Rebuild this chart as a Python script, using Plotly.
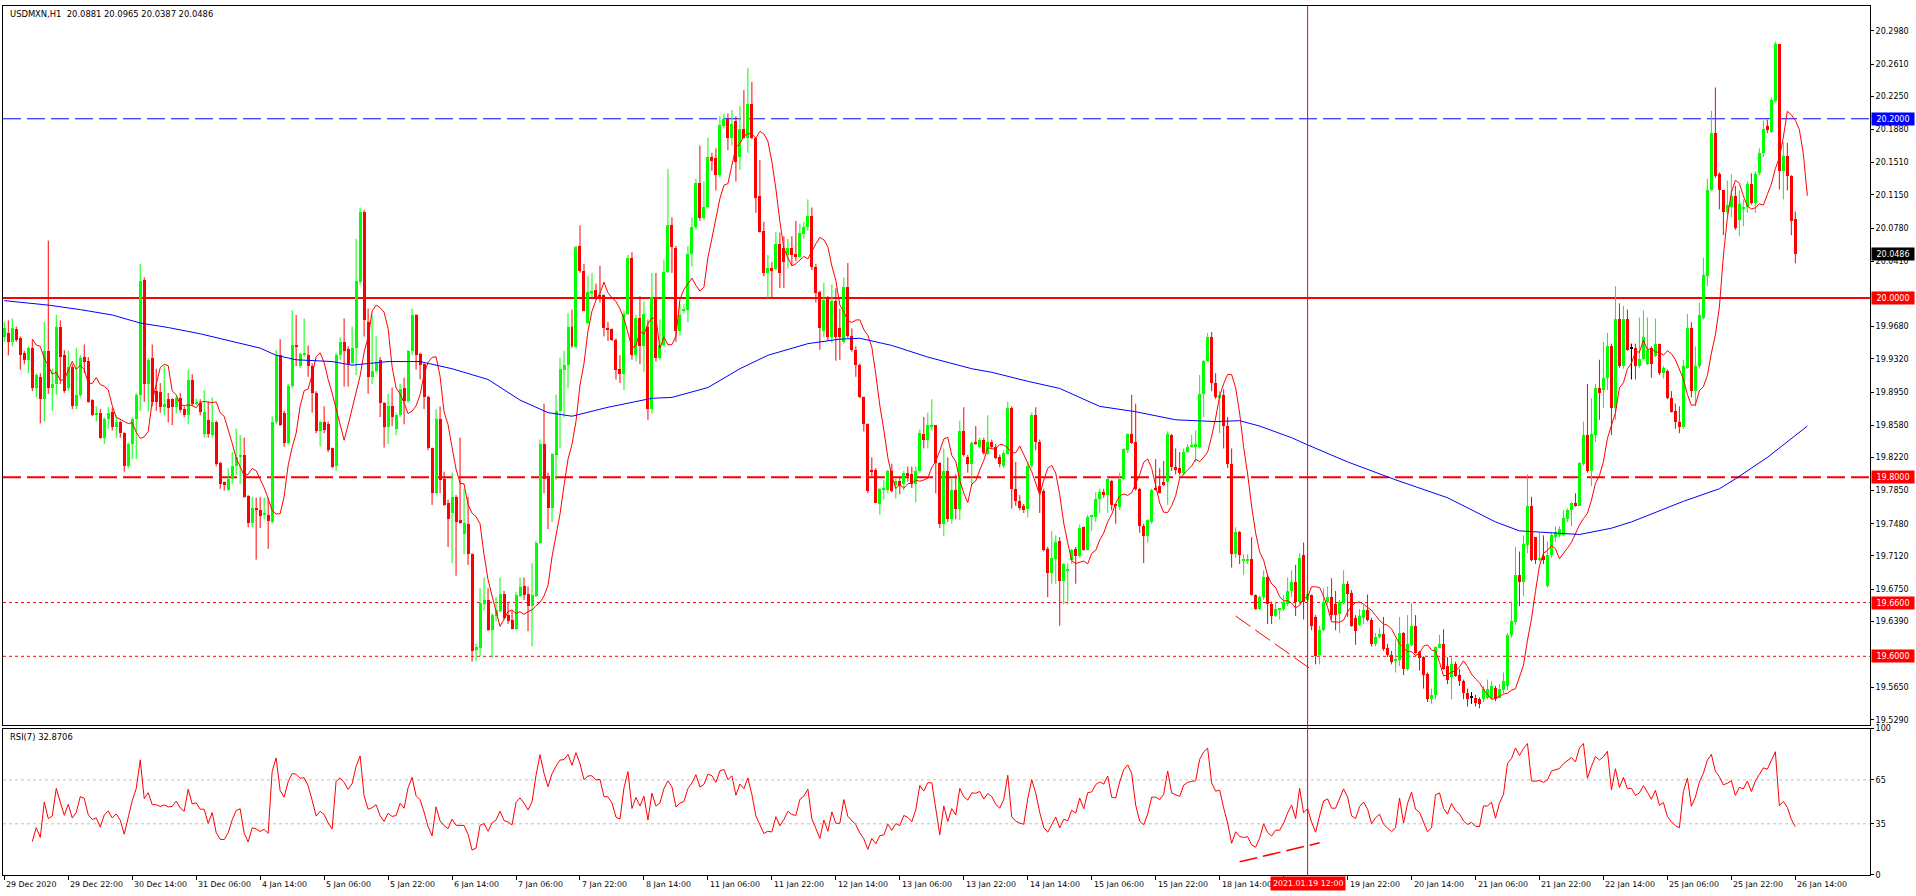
import pandas as pd
import plotly.graph_objects as go

# USDMXN H1 candles (bar 0 = 29 Dec 2020 06:00)
opens = [
    19.956, 19.961, 19.951, 19.965, 19.955, 19.939, 19.931, 19.944, 19.899, 19.912,
    19.887, 19.941, 19.899, 19.904, 19.968, 19.936, 19.899, 19.923, 19.879, 19.892,
    19.934, 19.930, 19.886, 19.869, 19.872, 19.844, 19.865, 19.873, 19.856, 19.862,
    19.849, 19.812, 19.837, 19.865, 19.892, 20.020, 19.904, 19.933, 19.896, 19.895,
    19.878, 19.887, 19.887, 19.878, 19.888, 19.876, 19.869, 19.908, 19.882, 19.883,
    19.848, 19.864, 19.847, 19.861, 19.816, 19.795, 19.786, 19.798, 19.812, 19.823,
    19.825, 19.779, 19.749, 19.766, 19.763, 19.758, 19.758, 19.750, 19.862, 19.936,
    19.872, 19.838, 19.902, 19.948, 19.924, 19.936, 19.936, 19.924, 19.894, 19.851,
    19.862, 19.859, 19.832, 19.812, 19.936, 19.951, 19.943, 19.927, 19.944, 20.018,
    20.096, 19.973, 19.912, 19.918, 19.931, 19.883, 19.856, 19.879, 19.854, 19.869,
    19.899, 19.885, 19.941, 19.981, 19.938, 19.926, 19.889, 19.832, 19.782, 19.865,
    19.798, 19.771, 19.760, 19.778, 19.752, 19.737, 19.748, 19.714, 19.607, 19.609,
    19.658, 19.663, 19.629, 19.645, 19.651, 19.669, 19.646, 19.640, 19.631, 19.667,
    19.678, 19.669, 19.656, 19.667, 19.726, 19.837, 19.801, 19.765, 19.825, 19.874,
    19.920, 19.925, 19.968, 19.945, 20.058, 20.030, 19.972, 20.006, 20.009, 20.003,
    20.003, 19.967, 19.965, 19.953, 19.921, 19.915, 19.982, 20.045, 19.936, 19.978,
    19.946, 19.968, 19.876, 20.000, 19.933, 19.948, 20.029, 20.081, 20.056, 19.963,
    19.986, 19.987, 20.049, 20.079, 20.128, 20.089, 20.102, 20.157, 20.156, 20.137,
    20.192, 20.200, 20.179, 20.198, 20.157, 20.189, 20.179, 20.216, 20.179, 20.114,
    20.075, 20.028, 20.033, 20.032, 20.060, 20.056, 20.048, 20.056, 20.049, 20.046,
    20.071, 20.079, 20.092, 20.035, 20.007, 19.963, 20.001, 19.956, 19.997, 19.966,
    19.951, 20.012, 19.958, 19.942, 19.925, 19.889, 19.859, 19.807, 19.808, 19.770,
    19.786, 19.786, 19.807, 19.791, 19.796, 19.792, 19.805, 19.803, 19.792, 19.807,
    19.848, 19.841, 19.857, 19.858, 19.816, 19.748, 19.807, 19.753, 19.786, 19.764,
    19.851, 19.823, 19.815, 19.839, 19.834, 19.842, 19.826, 19.839, 19.834, 19.823,
    19.812, 19.826, 19.877, 19.787, 19.773, 19.768, 19.764, 19.812, 19.869, 19.839,
    19.785, 19.720, 19.693, 19.709, 19.729, 19.684, 19.696, 19.708, 19.720, 19.712,
    19.744, 19.719, 19.755, 19.756, 19.776, 19.783, 19.780, 19.796, 19.769, 19.767,
    19.798, 19.830, 19.848, 19.839, 19.787, 19.745, 19.734, 19.750, 19.788, 19.790,
    19.795, 19.795, 19.847, 19.811, 19.810, 19.805, 19.828, 19.834, 19.834, 19.834,
    19.893, 19.930, 19.956, 19.905, 19.888, 19.892, 19.857, 19.815, 19.714, 19.739,
    19.707, 19.707, 19.709, 19.668, 19.653, 19.666, 19.689, 19.658, 19.645, 19.652,
    19.653, 19.658, 19.673, 19.683, 19.661, 19.713, 19.663, 19.668, 19.644, 19.601,
    19.629, 19.661, 19.666, 19.658, 19.647, 19.659, 19.681, 19.671, 19.643, 19.635,
    19.643, 19.652, 19.641, 19.614, 19.621, 19.625, 19.609, 19.601, 19.595, 19.596,
    19.626, 19.586, 19.613, 19.634, 19.605, 19.599, 19.580, 19.552, 19.557, 19.609,
    19.614, 19.589, 19.577, 19.591, 19.579, 19.572, 19.559, 19.554, 19.554, 19.552,
    19.552, 19.554, 19.554, 19.565, 19.554, 19.562, 19.567, 19.624, 19.638, 19.691,
    19.683, 19.724, 19.768, 19.733, 19.708, 19.712, 19.679, 19.713, 19.733, 19.735,
    19.735, 19.753, 19.763, 19.771, 19.768, 19.815, 19.847, 19.807, 19.847, 19.899,
    19.897, 19.911, 19.946, 19.877, 19.976, 19.924, 19.977, 19.944, 19.944, 19.924,
    19.932, 19.926, 19.944, 19.935, 19.949, 19.916, 19.919, 19.888, 19.874, 19.862,
    19.856, 19.922, 19.967, 19.896, 19.924, 19.978, 20.025, 20.121, 20.184, 20.138,
    20.120, 20.096, 20.102, 20.114, 20.087, 20.100, 20.101, 20.127, 20.106, 20.140,
    20.162, 20.192, 20.185, 20.220, 20.283, 20.142, 20.158, 20.136, 20.0881,
]
highs = [
    19.973, 19.975, 19.977, 19.968, 19.957, 19.941, 19.946, 19.953, 19.916, 19.916,
    19.973, 20.064, 19.921, 19.981, 19.975, 19.942, 19.941, 19.926, 19.944, 19.936,
    19.948, 19.934, 19.887, 19.879, 19.876, 19.867, 19.878, 19.877, 19.869, 19.863,
    19.850, 19.839, 19.867, 19.894, 20.038, 20.023, 19.933, 19.948, 19.921, 19.905,
    19.924, 19.894, 19.888, 19.890, 19.894, 19.879, 19.920, 19.915, 19.888, 19.887,
    19.897, 19.884, 19.889, 19.863, 19.817, 19.795, 19.810, 19.828, 19.854, 19.847,
    19.844, 19.780, 19.778, 19.777, 19.778, 19.777, 19.777, 19.868, 19.942, 19.954,
    19.874, 19.904, 19.986, 19.981, 19.939, 19.977, 19.947, 19.927, 19.896, 19.863,
    19.879, 19.862, 19.833, 19.939, 19.956, 19.977, 19.946, 19.968, 20.066, 20.101,
    20.098, 19.988, 19.981, 19.957, 19.934, 19.884, 19.893, 19.900, 19.872, 19.904,
    19.911, 19.942, 19.988, 19.982, 19.939, 19.927, 19.891, 19.833, 19.876, 19.879,
    19.806, 19.775, 19.805, 19.780, 19.844, 19.787, 19.778, 19.715, 19.614, 19.676,
    19.688, 19.676, 19.648, 19.666, 19.688, 19.673, 19.661, 19.651, 19.672, 19.688,
    19.688, 19.678, 19.704, 19.729, 19.842, 19.882, 19.805, 19.827, 19.892, 19.933,
    19.941, 19.983, 19.987, 20.058, 20.081, 20.038, 20.025, 20.028, 20.016, 20.036,
    20.004, 19.973, 19.966, 19.955, 19.936, 19.986, 20.048, 20.051, 19.981, 20.002,
    19.996, 19.976, 20.028, 20.028, 19.976, 20.043, 20.144, 20.090, 20.058, 19.993,
    19.993, 20.058, 20.090, 20.133, 20.170, 20.130, 20.179, 20.162, 20.167, 20.203,
    20.206, 20.206, 20.210, 20.203, 20.214, 20.232, 20.257, 20.241, 20.179, 20.154,
    20.085, 20.048, 20.040, 20.074, 20.073, 20.069, 20.066, 20.069, 20.086, 20.083,
    20.085, 20.110, 20.101, 20.038, 20.008, 20.017, 20.002, 20.015, 20.011, 19.988,
    20.023, 20.039, 19.966, 19.946, 19.927, 19.890, 19.860, 19.822, 19.810, 19.788,
    19.797, 19.808, 19.815, 19.798, 19.800, 19.807, 19.812, 19.812, 19.812, 19.853,
    19.867, 19.872, 19.887, 19.858, 19.817, 19.832, 19.822, 19.798, 19.803, 19.863,
    19.878, 19.825, 19.840, 19.857, 19.844, 19.844, 19.869, 19.842, 19.837, 19.825,
    19.830, 19.884, 19.879, 19.817, 19.780, 19.770, 19.817, 19.872, 19.878, 19.842,
    19.787, 19.722, 19.740, 19.735, 19.733, 19.704, 19.704, 19.720, 19.722, 19.747,
    19.745, 19.758, 19.758, 19.783, 19.787, 19.787, 19.800, 19.797, 19.770, 19.805,
    19.832, 19.849, 19.892, 19.882, 19.788, 19.748, 19.753, 19.787, 19.820, 19.810,
    19.818, 19.851, 19.848, 19.832, 19.828, 19.832, 19.837, 19.847, 19.852, 19.914,
    19.931, 19.961, 19.962, 19.916, 19.896, 19.898, 19.867, 19.832, 19.744, 19.740,
    19.714, 19.714, 19.733, 19.669, 19.668, 19.696, 19.691, 19.661, 19.661, 19.654,
    19.668, 19.688, 19.696, 19.702, 19.715, 19.727, 19.676, 19.669, 19.646, 19.634,
    19.676, 19.678, 19.687, 19.673, 19.663, 19.696, 19.684, 19.674, 19.646, 19.653,
    19.657, 19.669, 19.643, 19.626, 19.631, 19.644, 19.614, 19.606, 19.619, 19.644,
    19.627, 19.646, 19.659, 19.646, 19.606, 19.600, 19.582, 19.564, 19.611, 19.624,
    19.630, 19.599, 19.599, 19.594, 19.586, 19.574, 19.564, 19.560, 19.557, 19.554,
    19.567, 19.574, 19.572, 19.567, 19.569, 19.582, 19.626, 19.661, 19.722, 19.717,
    19.735, 19.803, 19.778, 19.733, 19.738, 19.735, 19.728, 19.738, 19.745, 19.745,
    19.763, 19.765, 19.772, 19.782, 19.817, 19.862, 19.904, 19.888, 19.904, 19.931,
    19.951, 19.961, 19.949, 20.013, 19.994, 19.991, 19.987, 19.949, 19.949, 19.978,
    19.986, 19.978, 19.946, 19.977, 19.949, 19.924, 19.920, 19.896, 19.882, 19.879,
    19.931, 19.982, 19.973, 19.946, 19.995, 20.045, 20.133, 20.209, 20.235, 20.140,
    20.120, 20.131, 20.138, 20.125, 20.120, 20.110, 20.130, 20.139, 20.141, 20.167,
    20.198, 20.199, 20.224, 20.286, 20.283, 20.174, 20.173, 20.137, 20.0965,
]
lows = [
    19.951, 19.936, 19.946, 19.951, 19.920, 19.926, 19.916, 19.896, 19.889, 19.860,
    19.862, 19.893, 19.874, 19.892, 19.904, 19.894, 19.896, 19.876, 19.876, 19.889,
    19.916, 19.883, 19.868, 19.862, 19.843, 19.837, 19.854, 19.852, 19.844, 19.844,
    19.806, 19.810, 19.820, 19.820, 19.874, 19.884, 19.873, 19.879, 19.874, 19.872,
    19.869, 19.861, 19.858, 19.871, 19.872, 19.867, 19.859, 19.879, 19.880, 19.869,
    19.844, 19.844, 19.844, 19.812, 19.787, 19.785, 19.785, 19.792, 19.802, 19.792,
    19.777, 19.744, 19.744, 19.708, 19.743, 19.753, 19.720, 19.748, 19.859, 19.857,
    19.834, 19.836, 19.899, 19.924, 19.922, 19.934, 19.912, 19.872, 19.849, 19.834,
    19.849, 19.828, 19.810, 19.807, 19.931, 19.901, 19.901, 19.926, 19.914, 20.015,
    19.957, 19.893, 19.904, 19.916, 19.867, 19.833, 19.837, 19.857, 19.847, 19.867,
    19.859, 19.883, 19.936, 19.920, 19.909, 19.876, 19.830, 19.769, 19.781, 19.782,
    19.768, 19.722, 19.704, 19.690, 19.748, 19.714, 19.702, 19.594, 19.595, 19.600,
    19.651, 19.628, 19.598, 19.639, 19.649, 19.641, 19.636, 19.630, 19.629, 19.666,
    19.663, 19.628, 19.611, 19.666, 19.725, 19.782, 19.742, 19.750, 19.797, 19.832,
    19.867, 19.899, 19.944, 19.944, 20.028, 19.985, 19.971, 20.001, 19.998, 19.995,
    19.957, 19.952, 19.952, 19.909, 19.905, 19.897, 19.981, 19.931, 19.929, 19.926,
    19.917, 19.864, 19.871, 19.929, 19.931, 19.946, 20.028, 20.028, 19.951, 19.958,
    19.983, 19.973, 20.035, 20.076, 20.086, 20.087, 20.100, 20.142, 20.120, 20.134,
    20.189, 20.165, 20.170, 20.130, 20.143, 20.178, 20.162, 20.177, 20.095, 20.073,
    20.024, 20.000, 20.000, 20.031, 20.011, 20.011, 20.033, 20.036, 20.041, 20.045,
    20.066, 20.075, 20.031, 19.995, 19.942, 19.956, 19.952, 19.950, 19.930, 19.931,
    19.949, 19.955, 19.940, 19.912, 19.888, 19.851, 19.782, 19.801, 19.771, 19.758,
    19.775, 19.782, 19.783, 19.776, 19.781, 19.785, 19.795, 19.788, 19.772, 19.805,
    19.832, 19.832, 19.852, 19.782, 19.743, 19.734, 19.750, 19.748, 19.753, 19.752,
    19.823, 19.805, 19.792, 19.836, 19.832, 19.825, 19.825, 19.832, 19.820, 19.811,
    19.810, 19.825, 19.765, 19.768, 19.763, 19.760, 19.755, 19.810, 19.830, 19.760,
    19.717, 19.666, 19.681, 19.681, 19.634, 19.658, 19.658, 19.703, 19.681, 19.710,
    19.718, 19.718, 19.740, 19.750, 19.760, 19.777, 19.760, 19.763, 19.748, 19.763,
    19.797, 19.827, 19.837, 19.785, 19.738, 19.704, 19.727, 19.748, 19.785, 19.782,
    19.790, 19.769, 19.807, 19.803, 19.802, 19.802, 19.827, 19.833, 19.817, 19.832,
    19.867, 19.929, 19.896, 19.887, 19.849, 19.832, 19.810, 19.699, 19.710, 19.703,
    19.691, 19.703, 19.668, 19.652, 19.652, 19.663, 19.636, 19.636, 19.644, 19.641,
    19.651, 19.656, 19.666, 19.645, 19.658, 19.641, 19.661, 19.629, 19.591, 19.591,
    19.628, 19.658, 19.641, 19.629, 19.626, 19.658, 19.644, 19.633, 19.613, 19.634,
    19.636, 19.639, 19.611, 19.611, 19.620, 19.606, 19.599, 19.591, 19.582, 19.589,
    19.579, 19.584, 19.611, 19.603, 19.584, 19.564, 19.549, 19.547, 19.552, 19.609,
    19.585, 19.569, 19.552, 19.577, 19.567, 19.552, 19.544, 19.547, 19.544, 19.542,
    19.549, 19.552, 19.552, 19.550, 19.553, 19.559, 19.562, 19.621, 19.635, 19.656,
    19.667, 19.715, 19.706, 19.703, 19.706, 19.703, 19.677, 19.710, 19.728, 19.733,
    19.734, 19.750, 19.745, 19.767, 19.768, 19.813, 19.805, 19.790, 19.839, 19.864,
    19.877, 19.897, 19.847, 19.864, 19.922, 19.921, 19.941, 19.909, 19.909, 19.922,
    19.931, 19.925, 19.911, 19.934, 19.914, 19.910, 19.887, 19.872, 19.854, 19.849,
    19.854, 19.921, 19.889, 19.879, 19.921, 19.976, 20.013, 20.120, 20.134, 20.099,
    20.070, 20.092, 20.090, 20.076, 20.069, 20.080, 20.095, 20.104, 20.095, 20.137,
    20.157, 20.184, 20.184, 20.218, 20.121, 20.110, 20.120, 20.070, 20.0387,
]
closes = [
    19.966, 19.951, 19.966, 19.953, 19.936, 19.931, 19.944, 19.899, 19.914, 19.887,
    19.941, 19.899, 19.904, 19.968, 19.934, 19.896, 19.923, 19.879, 19.892, 19.933,
    19.929, 19.884, 19.869, 19.872, 19.844, 19.865, 19.872, 19.856, 19.862, 19.849,
    19.812, 19.837, 19.865, 19.892, 20.019, 19.904, 19.931, 19.884, 19.884, 19.878,
    19.882, 19.877, 19.878, 19.888, 19.875, 19.869, 19.908, 19.882, 19.884, 19.873,
    19.873, 19.848, 19.861, 19.815, 19.792, 19.791, 19.798, 19.812, 19.823, 19.825,
    19.778, 19.749, 19.766, 19.763, 19.757, 19.759, 19.751, 19.862, 19.936, 19.858,
    19.838, 19.902, 19.948, 19.946, 19.937, 19.939, 19.924, 19.894, 19.851, 19.861,
    19.853, 19.830, 19.811, 19.936, 19.951, 19.941, 19.926, 19.944, 20.019, 20.096,
    19.975, 19.912, 19.918, 19.929, 19.883, 19.856, 19.879, 19.867, 19.869, 19.898,
    19.885, 19.941, 19.981, 19.936, 19.925, 19.889, 19.832, 19.782, 19.865, 19.797,
    19.769, 19.753, 19.778, 19.750, 19.749, 19.749, 19.714, 19.606, 19.610, 19.659,
    19.663, 19.629, 19.646, 19.652, 19.669, 19.643, 19.639, 19.631, 19.668, 19.677,
    19.668, 19.656, 19.668, 19.726, 19.837, 19.798, 19.765, 19.826, 19.874, 19.921,
    19.925, 19.968, 19.946, 20.057, 20.030, 19.986, 20.007, 20.008, 19.999, 20.001,
    19.966, 19.965, 19.953, 19.920, 19.915, 19.982, 20.045, 19.936, 19.978, 19.946,
    19.982, 19.876, 20.001, 19.933, 19.948, 20.029, 20.081, 20.057, 19.963, 19.981,
    19.988, 20.049, 20.079, 20.128, 20.089, 20.102, 20.157, 20.153, 20.137, 20.193,
    20.200, 20.179, 20.194, 20.152, 20.189, 20.179, 20.216, 20.179, 20.112, 20.074,
    20.028, 20.033, 20.030, 20.060, 20.028, 20.040, 20.056, 20.048, 20.046, 20.073,
    20.079, 20.092, 20.035, 20.006, 19.966, 19.998, 19.956, 19.997, 19.956, 19.956,
    20.012, 19.957, 19.942, 19.925, 19.889, 19.859, 19.784, 19.806, 19.771, 19.787,
    19.788, 19.807, 19.785, 19.796, 19.790, 19.805, 19.801, 19.792, 19.807, 19.849,
    19.841, 19.858, 19.858, 19.816, 19.748, 19.807, 19.753, 19.786, 19.764, 19.851,
    19.825, 19.815, 19.838, 19.837, 19.842, 19.827, 19.839, 19.834, 19.821, 19.815,
    19.827, 19.877, 19.787, 19.773, 19.766, 19.763, 19.812, 19.869, 19.839, 19.783,
    19.719, 19.693, 19.710, 19.728, 19.684, 19.703, 19.698, 19.719, 19.712, 19.743,
    19.719, 19.756, 19.758, 19.776, 19.783, 19.780, 19.798, 19.769, 19.768, 19.798,
    19.831, 19.848, 19.838, 19.787, 19.745, 19.734, 19.752, 19.786, 19.786, 19.782,
    19.791, 19.848, 19.811, 19.808, 19.805, 19.828, 19.834, 19.836, 19.837, 19.893,
    19.930, 19.956, 19.905, 19.889, 19.892, 19.857, 19.815, 19.714, 19.739, 19.713,
    19.708, 19.709, 19.668, 19.653, 19.666, 19.688, 19.658, 19.645, 19.653, 19.653,
    19.661, 19.673, 19.683, 19.661, 19.710, 19.661, 19.669, 19.634, 19.600, 19.629,
    19.661, 19.666, 19.646, 19.646, 19.661, 19.681, 19.669, 19.634, 19.628, 19.645,
    19.652, 19.641, 19.614, 19.621, 19.625, 19.608, 19.601, 19.594, 19.597, 19.626,
    19.586, 19.614, 19.634, 19.604, 19.598, 19.579, 19.552, 19.557, 19.610, 19.614,
    19.586, 19.574, 19.591, 19.578, 19.572, 19.559, 19.552, 19.554, 19.548, 19.547,
    19.564, 19.564, 19.567, 19.552, 19.564, 19.572, 19.624, 19.639, 19.691, 19.683,
    19.725, 19.768, 19.708, 19.707, 19.710, 19.707, 19.713, 19.735, 19.739, 19.742,
    19.754, 19.763, 19.771, 19.768, 19.816, 19.847, 19.807, 19.848, 19.899, 19.894,
    19.911, 19.946, 19.877, 19.977, 19.924, 19.977, 19.942, 19.944, 19.924, 19.932,
    19.956, 19.942, 19.926, 19.949, 19.916, 19.922, 19.888, 19.873, 19.862, 19.856,
    19.924, 19.967, 19.896, 19.924, 19.981, 20.026, 20.121, 20.184, 20.136, 20.120,
    20.096, 20.104, 20.114, 20.078, 20.105, 20.102, 20.127, 20.106, 20.138, 20.162,
    20.189, 20.187, 20.221, 20.283, 20.142, 20.158, 20.136, 20.086, 20.0486,
]

# slow moving average (blue), read at points along the line
ma_slow_bar = [0, 11, 19, 27, 34, 41, 49, 57, 64, 68,
               73, 82, 87, 96, 104, 112, 121, 129, 136, 142,
               151, 162, 167, 176, 184, 191, 201, 209, 214, 222,
               231, 242, 247, 256, 264, 274, 283, 293, 303, 309,
               314, 322, 326, 336, 348, 361, 373, 379, 386, 394,
               402, 407, 420, 429, 433, 441, 451]
ma_slow_val = [19.997, 19.992, 19.987, 19.981, 19.972, 19.967, 19.960, 19.951, 19.944, 19.936,
               19.931, 19.929, 19.925, 19.929, 19.929, 19.921, 19.909, 19.886, 19.872, 19.868,
               19.878, 19.888, 19.889, 19.900, 19.921, 19.936, 19.949, 19.954, 19.955, 19.947,
               19.934, 19.921, 19.917, 19.907, 19.899, 19.879, 19.873, 19.864, 19.862, 19.863,
               19.857, 19.844, 19.836, 19.817, 19.797, 19.777, 19.750, 19.740, 19.738, 19.736,
               19.743, 19.750, 19.773, 19.787, 19.798, 19.822, 19.857]

# time labels every 16 bars ("19 Jan 06:00" sits under the cursor label)
tick_labels = ["29 Dec 2020", "29 Dec 22:00", "30 Dec 14:00", "31 Dec 06:00", "4 Jan 14:00",
               "5 Jan 06:00", "5 Jan 22:00", "6 Jan 14:00", "7 Jan 06:00", "7 Jan 22:00",
               "8 Jan 14:00", "11 Jan 06:00", "11 Jan 22:00", "12 Jan 14:00", "13 Jan 06:00",
               "13 Jan 22:00", "14 Jan 14:00", "15 Jan 06:00", "15 Jan 22:00", "18 Jan 14:00",
               "", "19 Jan 22:00", "20 Jan 14:00", "21 Jan 06:00", "21 Jan 22:00",
               "22 Jan 14:00", "25 Jan 06:00", "25 Jan 22:00", "26 Jan 14:00"]
price_ticks = [20.2980, 20.2610, 20.2250, 20.1880, 20.1510, 20.1150, 20.0780, 20.0410,
               19.9680, 19.9320, 19.8950, 19.8580, 19.8220, 19.7850, 19.7480,
               19.7120, 19.6750, 19.6390, 19.5650, 19.5290]

# horizontal levels drawn on the chart: (price, colour, width, dash)
levels = [(20.2000, "#0000FF", 1, "18px,6px"),
          (20.0000, "#FF0000", 2, "solid"),
          (19.8000, "#FF0000", 2, "18px,6px"),
          (19.6600, "#FF0000", 1, "3px,3px"),
          (19.6000, "#FF0000", 1, "3px,3px")]
last_price = 20.0486
cursor_bar = 326
cursor_label = "2021.01.19 12:00"
trend_price_bar = [308, 327]
trend_price_val = [19.645, 19.585]
trend_rsi_bar = [309, 329]
trend_rsi_val = [9, 22]

GREEN, RED, BLUE = "#00FF00", "#FF0000", "#0000FF"
FONT = "DejaVu Sans"

n = len(closes)
idx = list(range(n))
cl = pd.Series(closes)

# fast moving average (red): 5 bar simple average
sma_fast = cl.rolling(5).mean()

# RSI(7), Wilder smoothing
period = 7
rsi = [None] * n
diffs = [closes[i] - closes[i - 1] for i in range(1, n)]
ag = sum(max(d, 0) for d in diffs[:period]) / period
al = sum(max(-d, 0) for d in diffs[:period]) / period
rsi[period] = 100 - 100 / (1 + ag / al) if al else 100
for i in range(period + 1, n):
    d = diffs[i - 1]
    ag = (ag * (period - 1) + max(d, 0)) / period
    al = (al * (period - 1) + max(-d, 0)) / period
    rsi[i] = 100 - 100 / (1 + ag / al) if al else 100

colors = []
for o, c in zip(opens, closes):
    colors.append(GREEN if c > o else (RED if c < o else "#000000"))

fig = go.Figure()

# wicks
for col in (GREEN, RED, "#000000"):
    wx, wy = [], []
    for i in idx:
        if colors[i] == col:
            wx += [i, i, None]
            wy += [lows[i], highs[i], None]
    fig.add_trace(go.Scatter(x=wx, y=wy, mode="lines", line=dict(color=col, width=1),
                             hoverinfo="skip", showlegend=False, xaxis="x", yaxis="y"))

# bodies
base = [min(o, c) for o, c in zip(opens, closes)]
height = [max(abs(c - o), 0.0011) for o, c in zip(opens, closes)]
fig.add_trace(go.Bar(x=idx, y=height, base=base, width=0.75,
                     marker=dict(color=colors, line=dict(width=0)),
                     showlegend=False, xaxis="x", yaxis="y"))

# moving averages (drawn with a 3 bar shift as in the terminal)
fig.add_trace(go.Scatter(x=[i + 3 for i in idx], y=sma_fast, mode="lines",
                         line=dict(color=RED, width=1), showlegend=False, xaxis="x", yaxis="y"))
fig.add_trace(go.Scatter(x=ma_slow_bar, y=ma_slow_val, mode="lines",
                         line=dict(color=BLUE, width=1), showlegend=False, xaxis="x", yaxis="y"))

# trend lines
fig.add_trace(go.Scatter(x=trend_price_bar, y=trend_price_val, mode="lines",
                         line=dict(color=RED, width=1, dash="18px,6px"),
                         showlegend=False, xaxis="x", yaxis="y"))
fig.add_trace(go.Scatter(x=trend_rsi_bar, y=trend_rsi_val, mode="lines",
                         line=dict(color=RED, width=1.5, dash="18px,6px"),
                         showlegend=False, xaxis="x2", yaxis="y2"))

# RSI
fig.add_trace(go.Scatter(x=idx, y=rsi, mode="lines", line=dict(color=RED, width=1),
                         showlegend=False, xaxis="x2", yaxis="y2"))

shapes = []
for price, col, w, dash in levels:
    shapes.append(dict(type="line", xref="x domain", yref="y", x0=0, x1=1, y0=price, y1=price,
                       line=dict(color=col, width=w, dash=dash), layer="below"))
for lv in (65, 35):
    shapes.append(dict(type="line", xref="x2 domain", yref="y2", x0=0, x1=1, y0=lv, y1=lv,
                       line=dict(color="#C0C0C0", width=1, dash="3px,3px"), layer="below"))
shapes.append(dict(type="line", xref="x", yref="paper", x0=cursor_bar, x1=cursor_bar, y0=0, y1=1,
                   line=dict(color=RED, width=1), layer="above"))

annotations = [
    dict(text="USDMXN,H1  20.0881 20.0965 20.0387 20.0486", xref="paper", yref="paper",
         x=0, y=1, xanchor="left", yanchor="top", xshift=5, yshift=-1, showarrow=False,
         font=dict(family=FONT, size=8.4, color="black")),
    dict(text="RSI(7) 32.8706", xref="paper", yref="paper", x=0, y=0.16838,
         xanchor="left", yanchor="top", xshift=5, yshift=-1, showarrow=False,
         font=dict(family=FONT, size=8.4, color="black")),
]
for k, lab in enumerate(tick_labels):
    if not lab:
        continue
    annotations.append(dict(text=lab, xref="x2", yref="paper", x=16 * k, y=0,
                            xanchor="left", yanchor="top", xshift=0, yshift=-3, showarrow=False,
                            font=dict(family=FONT, size=7.9, color="black")))
annotations.append(dict(text=cursor_label, xref="x2", yref="paper", x=cursor_bar, y=0,
                        xanchor="center", yanchor="top", yshift=-1, showarrow=False,
                        bgcolor=RED, borderpad=2, font=dict(family=FONT, size=7.9, color="white")))
for price, bg in [(levels[0][0], BLUE), (last_price, "#000000"), (levels[1][0], RED),
                  (levels[2][0], RED), (levels[3][0], RED), (levels[4][0], RED)]:
    annotations.append(dict(text=f"{price:.4f}", xref="paper", yref="y", x=1, y=price,
                            xanchor="left", yanchor="middle", xshift=1, showarrow=False,
                            bgcolor=bg, borderpad=1, width=40, height=10,
                            font=dict(family=FONT, size=8, color="white")))

axis_common = dict(showgrid=False, zeroline=False, showline=True, linecolor="black",
                   linewidth=1, mirror=True)
xr = [-0.325, 466.675]

fig.update_layout(
    width=1916, height=896,
    margin=dict(l=2, r=46, t=2, b=21),
    paper_bgcolor="white", plot_bgcolor="white",
    barmode="overlay", bargap=0, showlegend=False,
    font=dict(family=FONT, size=8, color="black"),
    xaxis=dict(domain=[0, 1], anchor="y", range=xr, showticklabels=False, ticks="",
               **axis_common),
    yaxis=dict(domain=[0.17297, 1], anchor="x", side="right", range=[19.52367, 20.32589],
               tickvals=price_ticks, ticktext=[f"{v:.4f}" for v in price_ticks],
               ticks="outside", ticklen=3, tickcolor="black",
               tickfont=dict(family=FONT, size=8, color="black"), **axis_common),
    xaxis2=dict(domain=[0, 1], anchor="y2", range=xr, tickvals=[16 * k for k in range(len(tick_labels))],
                showticklabels=False, ticks="outside", ticklen=4, tickcolor="black",
                **axis_common),
    yaxis2=dict(domain=[0, 0.16838], anchor="x2", side="right", range=[0, 100],
                tickvals=[0, 35, 65, 100], ticks="outside", ticklen=3, tickcolor="black",
                tickfont=dict(family=FONT, size=8, color="black"), **axis_common),
    shapes=shapes,
    annotations=annotations,
)

fig.write_html("out.html", config={"displayModeBar": False},
               post_script="document.body.style.margin='0';document.body.style.overflow='hidden';")
